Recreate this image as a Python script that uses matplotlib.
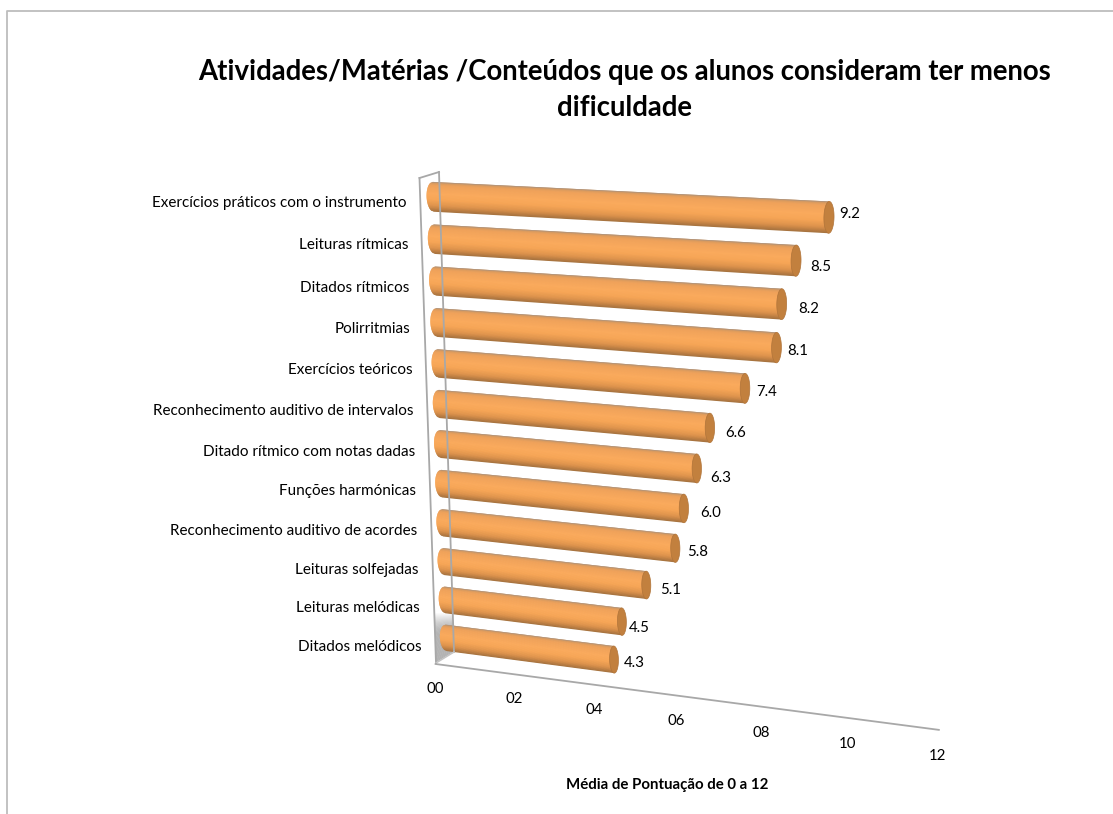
import numpy as np
import matplotlib
matplotlib.use("Agg")
import matplotlib.pyplot as plt
from matplotlib.patches import Polygon
from matplotlib.transforms import Transform
from matplotlib.colors import LinearSegmentedColormap

plt.rcParams['font.family'] = ['Lato', 'DejaVu Sans']

W, H = 1113, 814

categories = [
    "Ditados melódicos", "Leituras melódicas", "Leituras solfejadas",
    "Reconhecimento auditivo de acordes", "Funções harmónicas",
    "Ditado rítmico com notas dadas", "Reconhecimento auditivo de intervalos",
    "Exercícios teóricos", "Polirritmias", "Ditados rítmicos",
    "Leituras rítmicas", "Exercícios práticos com o instrumento",
]
values = [4.3, 4.5, 5.1, 5.8, 6.0, 6.3, 6.6, 7.4, 8.1, 8.2, 8.5, 9.2]
value_ticks = [0, 2, 4, 6, 8, 10, 12]
tick_labels = ["00", "02", "04", "06", "08", "10", "12"]
title = "Atividades/Matérias /Conteúdos que os alunos consideram ter menos\ndificuldade"
axis_title = "Média de Pontuação de 0 a 12"


def fit_homography(src, dst):
    """Least-squares perspective map through any number of point pairs."""
    rows = []
    for (a, b), (x, y) in zip(src, dst):
        rows.append([a, b, 1, 0, 0, 0, -a * x, -b * x, -x])
        rows.append([0, 0, 0, a, b, 1, -a * y, -b * y, -y])
    return np.linalg.svd(np.array(rows, float))[2][-1].reshape(3, 3)


class Projection(Transform):
    """Perspective map from a chart plane onto figure pixels."""
    input_dims = output_dims = 2
    is_separable = False

    def __init__(self, matrix):
        super().__init__()
        self.matrix = matrix

    def transform_non_affine(self, pts):
        pts = np.asarray(pts, float)
        h = np.column_stack([pts, np.ones(len(pts))]) @ self.matrix.T
        return h[:, :2] / h[:, 2:]


# Plane of the bars: (value, row) to pixels, calibrated at the two corners of
# the plot and along the rows
bar_plane = fit_homography(
    [(0, 0), (0, 5), (0, 9), (0, 11),
     (4.3, 0), (6.0, 4), (7.4, 7), (8.2, 9), (9.2, 11)],
    [(447, 638), (441, 444), (435, 281), (433, 197),
     (612, 660), (685, 508), (746, 388), (781, 304), (829, 218)],
)
# Plane of the floor: (value, drop) to pixels; drop 1 is the tick label line
floor_plane = fit_homography(
    [(0, 0), (6, 0), (12, 0), (0, 1), (6, 1), (12, 1)],
    [(436, 663), (677, 695.6), (939, 731), (435, 689.5), (677, 721.5), (937, 755)],
)

fig = plt.figure(figsize=(W / 100, H / 100), dpi=100, facecolor="white")
ax = fig.add_axes([0, 0, 1, 1])
ax.set_xlim(0, W)
ax.set_ylim(H, 0)
ax.axis("off")

to_bars = Projection(bar_plane) + ax.transData
to_floor = Projection(floor_plane) + ax.transData

# Chart area border
ax.plot([7, 7, W], [H, 11, 11], color="#BDBDBD", lw=1.3, solid_capstyle="butt")

# Side wall with a soft shadow near its foot
wall_front = np.array([[419.5, 178], [436, 663]])
wall_back = np.array([[439, 172], [454, 652]])
shade_steps = 40
for i in range(shade_steps):
    t0, t1 = i / shade_steps, (i + 1) / shade_steps
    y0, y1 = 612 + 50 * t0, 612 + 50 * t1 + 0.5
    xf0 = np.interp(y0, wall_front[:, 1], wall_front[:, 0])
    xf1 = np.interp(y1, wall_front[:, 1], wall_front[:, 0])
    xb0 = np.interp(y0, wall_back[:, 1], wall_back[:, 0])
    xb1 = np.interp(y1, wall_back[:, 1], wall_back[:, 0])
    ax.add_patch(Polygon([[xf0, y0], [xb0, y0 - 11 * t0], [xb1, y1 - 11 * t1], [xf1, y1]],
                         fc=str(1.0 - 0.30 * np.sin(np.pi * min(t0, 0.5))), ec="none"))
wall_color = "#A8A8A8"
ax.plot(wall_front[:, 0], wall_front[:, 1], color=wall_color, lw=1.3)
ax.plot([wall_front[0, 0], wall_back[0, 0]], [wall_front[0, 1], wall_back[0, 1]], color=wall_color, lw=1.3)
ax.plot(wall_back[:, 0], wall_back[:, 1], color=wall_color, lw=1.3)
ax.plot([wall_front[1, 0], wall_back[1, 0]], [wall_front[1, 1], wall_back[1, 1]], color="#C4C4C4", lw=1.1)

# Value axis along the floor
ax.plot([0, 12], [0, 0], color=wall_color, lw=1.3, transform=to_floor)
for tick, text in zip(value_ticks, tick_labels):
    ax.text(tick, 1, text, transform=to_floor, ha="center", va="center",
            fontsize=10.8, color="black")

# Cylinders
shading = LinearSegmentedColormap.from_list("cylinder", [
    (0.00, "#9C9088"), (0.04, "#D99A5E"), (0.12, "#EFA25A"), (0.40, "#FAAA5C"),
    (0.60, "#F6A556"), (0.80, "#DE934C"), (0.93, "#B87C42"), (1.00, "#A37240"),
])
half_height = 0.35
left_depth = 0.165
cap_depth = 0.11
strips = 40
# Pixel offsets of the value labels from the bar ends, bottom row first
value_nudge = [(20, -3), (17, -6), (24, -5), (22, -4), (27, -5), (24, -10),
               (26, -5), (22, -4), (21, -3), (27, -5), (25, -6), (21, 3)]

for row, (value, name) in enumerate(zip(values, categories)):
    edges = np.linspace(-1, 1, strips + 1)
    # Each band runs past the next one, which paints over it and hides the seam
    for k in range(strips):
        s0 = edges[k]
        s1 = edges[min(k + 2, strips)]
        b0 = -left_depth * np.sqrt(1 - s0 ** 2)
        b1 = -left_depth * np.sqrt(1 - s1 ** 2)
        colour = shading((1 - (edges[k] + edges[k + 1]) / 2) / 2)
        ax.add_patch(Polygon(
            [(b0, row + s0 * half_height), (value, row + s0 * half_height),
             (value, row + s1 * half_height), (b1, row + s1 * half_height)],
            fc=colour, ec="none", transform=to_bars))
    angle = np.linspace(0, 2 * np.pi, 60)
    cap = np.column_stack([value + cap_depth * np.cos(angle),
                           row + half_height * np.sin(angle)])
    ax.add_patch(Polygon(cap, fc="#C2803E", ec="#B0743A", lw=0.5, transform=to_bars))

    ax.annotate(f"{value:.1f}", (value, row), xycoords=to_bars,
                xytext=value_nudge[row], textcoords="offset pixels",
                ha="center", va="center", fontsize=10.8, color="black")
    ax.text(-0.67, row - (0.32 - 0.15 * row / 11), name, transform=to_bars, ha="right",
            va="center", fontsize=11.0, color="black")

ax.text(625, 90, title, ha="center", va="center", fontsize=19.8, fontweight="bold",
        linespacing=1.52, color="black")
ax.text(667, 785, axis_title, ha="center", va="center", fontsize=10.8, fontweight="bold",
        color="black")

fig.savefig("out.png", dpi=100, facecolor="white")
